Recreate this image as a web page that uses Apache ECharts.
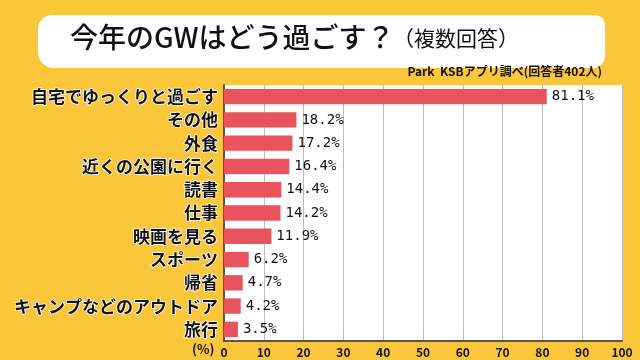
<!DOCTYPE html>
<html><head><meta charset="utf-8">
<script src="https://cdn.jsdelivr.net/npm/echarts@6/dist/echarts.min.js"></script>
<style>html,body{margin:0;padding:0;background:#FCC63B;}#c{width:640px;height:360px;}</style>
</head><body><div id="c"></div>
<script>
const categories = ["自宅でゆっくりと過ごす","その他","外食","近くの公園に行く","読書","仕事","映画を見る","スポーツ","帰省","キャンプなどのアウトドア","旅行"];
const values = [81.1,18.2,17.2,16.4,14.4,14.2,11.9,6.2,4.7,4.2,3.5];
const xTicks = [0,10,20,30,40,50,60,70,80,90,100];
const titleMain = "今年のGWはどう過ごす？";
const titleSub = "（複数回答）";
const sourceText = "Park  KSBアプリ調べ(回答者402人)";

const chart = echarts.init(document.getElementById('c'));
const font = '"Noto Sans CJK JP", sans-serif';
const mono = '"DejaVu Sans Mono", monospace';
chart.setOption({
  backgroundColor: '#FCC63B',
  animation: false,
  graphic: [
    {type:'rect', shape:{x:38,y:15,width:567,height:53,r:[14,10,12,16]}, style:{fill:'#fff'}},
    {type:'text', left:70, top:23, style:{text:titleMain, font:'500 28px '+font, fill:'#111'}},
    {type:'text', left:393, top:28, style:{text:titleSub, font:'400 21px '+font, fill:'#111'}},
    {type:'text', right:38, top:65, style:{text:sourceText, font:'bold 12px '+font, fill:'#111'}},
    {type:'text', left:192, top:343, style:{text:'(%)', font:'bold 13px '+font, fill:'#111'}}
  ],
  grid: {left:224, right:18, top:85, height:256, show:true, backgroundColor:'#fff', borderWidth:0},
  xAxis: {
    type:'value', min:0, max:100, interval:10,
    axisLine:{show:true, lineStyle:{color:'#555', width:2}},
    axisTick:{show:false},
    splitLine:{show:true, lineStyle:{color:'#bbb', width:1}},
    axisLabel:{color:'#111', fontSize:12, fontWeight:'bold', fontFamily:font, margin:5,
      formatter: v => xTicks.includes(v) ? String(v) : ''}
  },
  yAxis: {
    type:'category', data:categories, inverse:true,
    axisLine:{show:true, lineStyle:{color:'#555', width:2}},
    axisTick:{show:false},
    axisLabel:{color:'#111', fontSize:17, fontWeight:'bold', fontFamily:font, margin:6,
      textBorderColor:'#fff', textBorderWidth:1.5}
  },
  series: [{
    type:'bar', data:values, barWidth:'66%',
    itemStyle:{color:'#E8535E'},
    label:{show:true, position:'right', distance:5, color:'#111', fontSize:14, fontFamily:mono,
      formatter: p => p.value.toFixed(1) + '%'}
  }]
});
</script></body></html>
